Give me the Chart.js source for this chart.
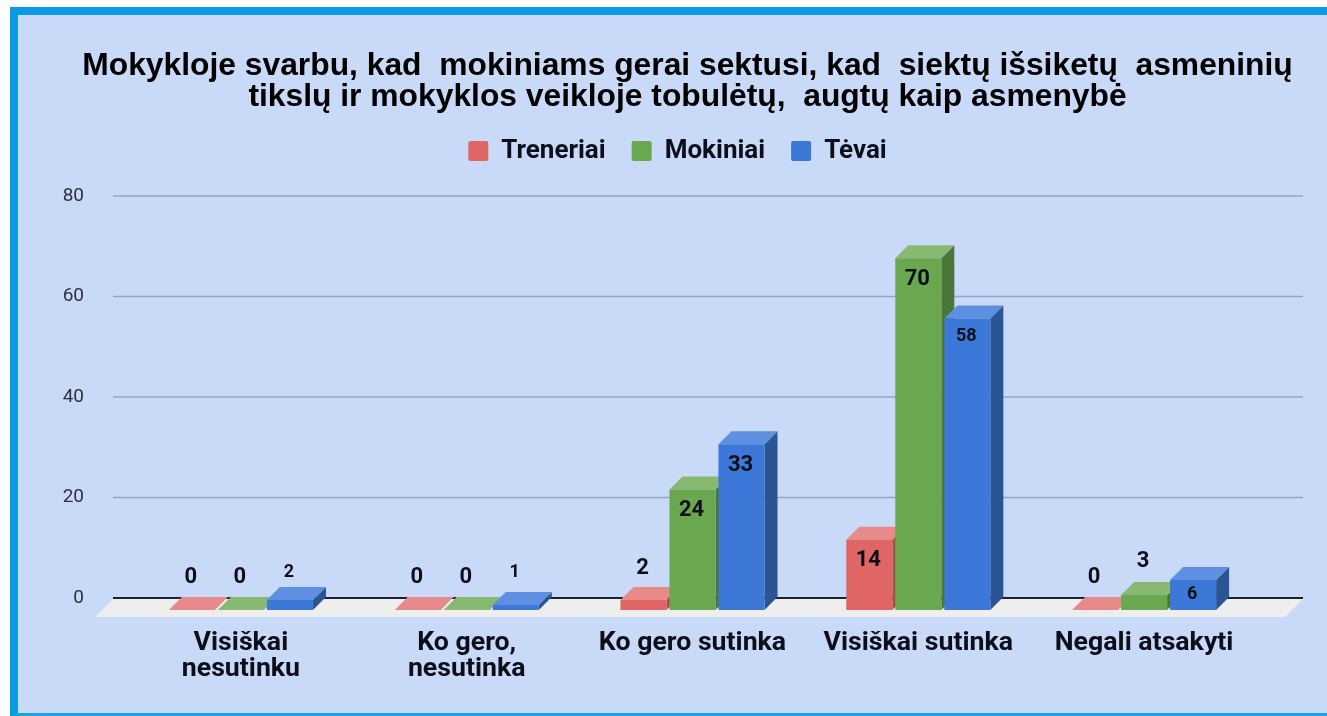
<!DOCTYPE html>
<html>
<head>
<meta charset="utf-8">
<title>Mokykloje svarbu</title>
<script src="https://cdn.jsdelivr.net/npm/chart.js@4"></script>
<style>
  html, body { margin: 0; padding: 0; background: #ffffff; overflow: hidden; }
  #frame {
    position: absolute; left: 10px; top: 7px; width: 1309px; height: 698px;
    background: #c9daf8; border-left: 8px solid #0a9ce2; border-top: 8px solid #0a9ce2;
    border-bottom: 3px solid #1aa3e0;
  }
  #voteChart { position: absolute; left: 0; top: 0; }
</style>
</head>
<body>
<div id="frame"></div>
<canvas id="voteChart" width="1327" height="716"></canvas>
<script>
'use strict';
var titleLines = [
  'Mokykloje svarbu, kad  mokiniams gerai sektusi, kad  siektų išsiketų  asmeninių',
  'tikslų ir mokyklos veikloje tobulėtų,  augtų kaip asmenybė'
];
var categories = [['Visiškai', 'nesutinku'], ['Ko gero,', 'nesutinka'], 'Ko gero sutinka', 'Visiškai sutinka', 'Negali atsakyti'];
var seriesNames = ['Treneriai', 'Mokiniai', 'Tėvai'];
var treneriai = [0, 0, 2, 14, 0];
var mokiniai = [0, 0, 24, 70, 3];
var tevai = [2, 1, 33, 58, 6];
var yTicks = [0, 20, 40, 60, 80];

var frontColors = ['#e06666', '#6aa84f', '#3c78d8'];
var topColors = ['#e88a8a', '#88b973', '#5f8fe0'];
var sideColors = ['#a84d4d', '#4a7637', '#2a5494'];

var textColor = '#0c0f1a';
var depth = 13;       // bar depth, pixels
var floorDepth = 18;  // floor depth, pixels
var wallLeft = 113;
var wallRight = 1303;

function face(ctx, color, points) {
  ctx.fillStyle = color;
  ctx.beginPath();
  ctx.moveTo(points[0][0], points[0][1]);
  for (var i = 1; i < points.length; i++) {
    ctx.lineTo(points[i][0], points[i][1]);
  }
  ctx.closePath();
  ctx.fill();
}

function drawValue(ctx, bar, value, datasetIndex) {
  // the blue series uses a smaller label, except for the 33
  var small = datasetIndex === 2 && value !== 33;
  var y;
  if (value >= 6) {
    y = bar.y + (value === 6 ? 15 : small ? 18 : 21);
  } else {
    y = bar.y - (value === 2 && small ? 28 : value === 2 ? 32 : 33);
  }
  ctx.fillStyle = textColor;
  ctx.font = 'bold ' + (small ? 18 : 22) + 'px Roboto';
  ctx.textAlign = 'center';
  ctx.textBaseline = 'middle';
  ctx.fillText(String(value), bar.x - 1, y);
}

var wallAndBars = {
  id: 'wallAndBars',
  afterLayout: function(chart) {
    // title and legend are not centred on the plot in the original
    chart.titleBlock.left += 59;
    chart.titleBlock.right += 59;
    chart.legend.left += 49;
    chart.legend.right += 49;
    chart.legend.top -= 22;
    chart.legend.bottom -= 22;
  },
  beforeDatasetsDraw: function(chart) {
    var ctx = chart.ctx;
    var y = chart.scales.y;
    var i, j;

    ctx.save();
    // gridlines run past the category range, so they are stroked here from the axis ticks
    for (i = 0; i < yTicks.length; i++) {
      var gy = y.getPixelForValue(yTicks[i]);
      if (yTicks[i] === 0) {
        continue;
      }
      ctx.strokeStyle = '#98a4c0';
      ctx.lineWidth = 1.5;
      ctx.beginPath();
      ctx.moveTo(wallLeft, gy);
      ctx.lineTo(wallRight, gy);
      ctx.stroke();
    }
    var zero = y.getPixelForValue(0);
    face(ctx, '#eeeeee', [
      [wallLeft, zero + 1],
      [wallRight, zero + 1],
      [wallRight - floorDepth, zero + 1 + floorDepth],
      [wallLeft - floorDepth, zero + 1 + floorDepth]
    ]);
    ctx.strokeStyle = '#1b2033';
    ctx.lineWidth = 2;
    ctx.beginPath();
    ctx.moveTo(wallLeft, zero);
    ctx.lineTo(wallRight, zero);
    ctx.stroke();

    // back to front: red, green, blue
    for (i = 0; i < chart.data.datasets.length; i++) {
      var meta = chart.getDatasetMeta(i);
      for (j = 0; j < meta.data.length; j++) {
        var bar = meta.data[j];
        var half = bar.width / 2;
        var l = bar.x - half;
        var r = bar.x + half;
        face(ctx, sideColors[i], [[r, bar.y], [r + depth, bar.y - depth], [r + depth, bar.base - depth], [r, bar.base]]);
        face(ctx, topColors[i], [[l, bar.y], [l + depth, bar.y - depth], [r + depth, bar.y - depth], [r, bar.y]]);
        bar.draw(ctx);
      }
    }
    for (i = 0; i < chart.data.datasets.length; i++) {
      var barMeta = chart.getDatasetMeta(i);
      for (j = 0; j < barMeta.data.length; j++) {
        drawValue(ctx, barMeta.data[j], chart.data.datasets[i].data[j], i);
      }
    }
    ctx.restore();
    return false;
  }
};

var seriesValues = [treneriai, mokiniai, tevai];
var datasets = [];
for (var s = 0; s < seriesNames.length; s++) {
  datasets.push({
    label: seriesNames[s],
    data: seriesValues[s],
    backgroundColor: frontColors[s],
    yAxisID: 'barAxis',
    barPercentage: 0.94,
    categoryPercentage: 0.651
  });
}

new Chart(document.getElementById('voteChart').getContext('2d'), {
  type: 'bar',
  data: { labels: categories, datasets: datasets },
  plugins: [wallAndBars],
  options: {
    responsive: false,
    animation: false,
    layout: { padding: { left: 0, right: 70, top: 0, bottom: 0 } },
    plugins: {
      tooltip: { enabled: false },
      title: {
        display: true,
        text: titleLines,
        color: '#000000',
        font: { family: '"Liberation Sans"', size: 31.8, weight: 'bold', lineHeight: 1 },
        padding: { top: 50, bottom: 20.4 }
      },
      legend: {
        display: true,
        labels: {
          color: textColor,
          font: { family: 'Roboto', size: 26, weight: 'bold' },
          boxWidth: 20,
          boxHeight: 20,
          padding: 26,
          useBorderRadius: true,
          borderRadius: 2
        }
      }
    },
    scales: {
      x: {
        grid: { display: false, drawTicks: false },
        border: { display: false },
        ticks: {
          color: textColor,
          font: { family: 'Roboto', size: 26.7, weight: 'bold', lineHeight: 0.98 },
          padding: 32,
          maxRotation: 0,
          autoSkip: false
        },
        afterFit: function(scale) { scale.height = 118; }
      },
      y: {
        min: 0,
        max: 80,
        afterBuildTicks: function(scale) {
          scale.ticks = yTicks.map(function(v) { return { value: v }; });
        },
        grid: { display: false, drawTicks: false },
        border: { display: false },
        ticks: {
          color: '#2d3142',
          font: { family: 'Roboto', size: 19 },
          padding: 44
        },
        afterFit: function(scale) { scale.width = 128; }
      },
      // same pixels per unit as y, but its zero sits on the front edge of the floor
      barAxis: {
        display: false,
        min: 2.4,
        max: 82.4
      }
    }
  }
});
</script>
</body>
</html>
